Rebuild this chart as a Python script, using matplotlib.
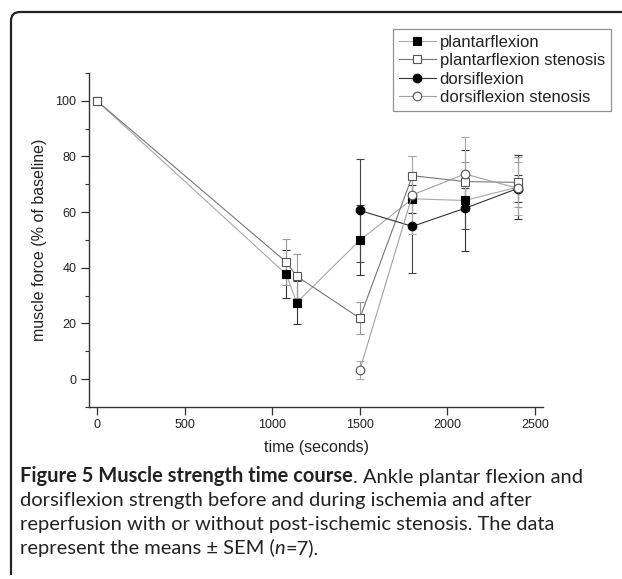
import matplotlib
matplotlib.use("Agg")
import matplotlib.pyplot as plt
import numpy as np
from matplotlib.path import Path
from matplotlib.patches import PathPatch
from matplotlib.text import Annotation

# ── data ──────────────────────────────────────────────────────────────────────
t_pf = [0, 1080, 1140, 1500, 1800, 2100, 2400]
pf = [100, 37.7, 27.5, 49.9, 64.8, 64.2, 69.0]
pf_err = [0, 8.7, 7.6, 12.5, 5.0, 18.0, 11.5]

t_pfs = [0, 1080, 1140, 1500, 1800, 2100, 2400]
pfs = [100, 42.1, 37.0, 21.9, 73.1, 71.0, 70.7]
pfs_err = [0, 8.4, 8.0, 5.8, 7.0, 7.0, 9.0]

t_df = [1500, 1800, 2100, 2400]
df = [60.6, 54.9, 61.4, 68.5]
df_err = [18.5, 16.9, 7.4, 5.0]

t_dfs = [1500, 1800, 2100, 2400]
dfs = [3.3, 66.2, 73.7, 68.6]
dfs_err = [3.2, 14.0, 13.3, 9.6]

W, H = 622, 579
fig = plt.figure(figsize=(W / 100, H / 100), dpi=100)
plt.rcParams["font.family"] = ["Liberation Sans", "DejaVu Sans"]

ax = fig.add_axes([89 / W, 1 - 407 / H, (543 - 89) / W, (407 - 73) / H])

# (times, values, errors, marker, face, edge, line colour, errorbar colour, label)
series = [
    (t_pf, pf, pf_err, "s", "black", "black", "#a8a8a8", "#333333", "plantarflexion"),
    (t_pfs, pfs, pfs_err, "s", "white", "#555555", "#777777", "#999999", "plantarflexion stenosis"),
    (t_df, df, df_err, "o", "black", "black", "#333333", "#444444", "dorsiflexion"),
    (t_dfs, dfs, dfs_err, "o", "white", "#555555", "#a0a0a0", "#aaaaaa", "dorsiflexion stenosis"),
]
for t, y, e, m, fc, ec, lc, errc, lab in series:
    ax.errorbar(t, y, yerr=e, fmt="none", ecolor=errc, elinewidth=0.8,
                capsize=3, capthick=0.8, zorder=2)
    ax.plot(t, y, color=lc, lw=0.8, marker=m, markersize=5.5 if m == "s" else 6.2,
            markerfacecolor=fc, markeredgecolor=ec, markeredgewidth=0.8,
            label=lab, zorder=3)

ax.set_xlim(-45, 2545)
ax.set_ylim(-10, 110)
ax.set_xticks(np.arange(0, 2501, 500))
ax.set_yticks(np.arange(0, 101, 20))
ax.set_yticks(np.arange(-10, 111, 10), minor=True)
for s in ["top", "right"]:
    ax.spines[s].set_visible(False)
for s in ["left", "bottom"]:
    ax.spines[s].set_color("#333333")
    ax.spines[s].set_linewidth(1.0)
ax.tick_params(axis="both", which="major", direction="out", length=5.5, width=0.9,
               labelsize=9, colors="#333333", labelcolor="#222222")
ax.tick_params(axis="y", which="minor", direction="out", length=3, width=0.8, colors="#333333")
ax.set_xlabel("time (seconds)", fontsize=11.5, color="#222222", labelpad=6)
ax.set_ylabel("muscle force (% of baseline)", fontsize=11.5, color="#222222", labelpad=6)

leg = ax.legend(loc="upper left", bbox_to_anchor=(393 / W, 1 - 29 / H),
                bbox_transform=fig.transFigure, fontsize=12, frameon=True,
                fancybox=False, edgecolor="#777777", borderpad=0.35,
                labelspacing=0.2, handlelength=2.2, handletextpad=0.25,
                borderaxespad=0)
leg.get_frame().set_linewidth(0.9)
for txt in leg.get_texts():
    txt.set_color("#222222")

# ── caption frame ─────────────────────────────────────────────────────────────
def fx(px):
    return px / W


def fy(py):
    return 1 - py / H


r = 9
verts = [(fx(11), fy(575)), (fx(11), fy(12 + r)), (fx(11), fy(12)), (fx(11 + r), fy(12)),
         (fx(622), fy(12))]
codes = [Path.MOVETO, Path.LINETO, Path.CURVE3, Path.CURVE3, Path.LINETO]
fig.patches.append(PathPatch(Path(verts, codes), fill=False, lw=1.6, edgecolor="#222222",
                             transform=fig.transFigure))

# ── caption text ──────────────────────────────────────────────────────────────
cap_font = ["Lato", "DejaVu Sans"]
cs = 14.5
cc = "#222222"
t1 = fig.text(fx(20), fy(482), "Figure 5 Muscle strength time course", fontsize=cs,
              fontweight="bold", family=cap_font, color=cc)
fig.add_artist(Annotation(". Ankle plantar flexion and", xy=(1, 0), xycoords=t1,
                          va="bottom", fontsize=cs, family=cap_font, color=cc))
fig.text(fx(20), fy(506), "dorsiflexion strength before and during ischemia and after",
         fontsize=cs, family=cap_font, color=cc)
fig.text(fx(20), fy(530), "reperfusion with or without post-ischemic stenosis. The data",
         fontsize=cs, family=cap_font, color=cc)
t4 = fig.text(fx(20), fy(554), "represent the means \u00b1 SEM (", fontsize=cs,
              family=cap_font, color=cc)
t5 = fig.add_artist(Annotation("n", xy=(1, 0), xycoords=t4, va="bottom", fontsize=cs,
                               family=cap_font, style="italic", color=cc))
fig.add_artist(Annotation("=7).", xy=(1, 0), xycoords=t5, va="bottom", fontsize=cs,
                          family=cap_font, color=cc))

fig.savefig("out.png", dpi=100)
